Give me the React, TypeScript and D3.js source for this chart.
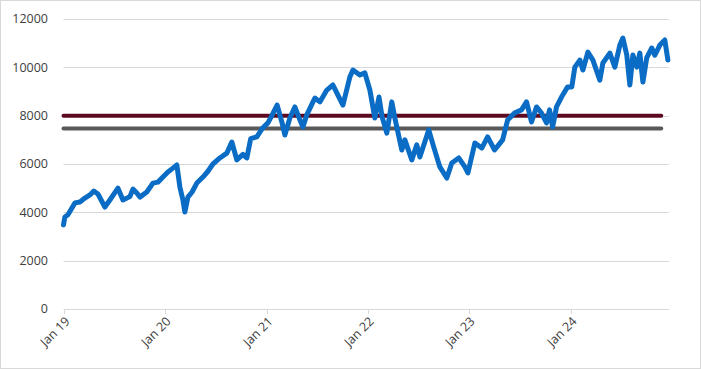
import React, { useEffect } from 'react';
import * as d3 from 'd3';

// index level, roughly twice a month
const dates = [
  '2019-01-01', '2019-01-06', '2019-01-17', '2019-02-11', '2019-03-01', '2019-03-19', '2019-04-06', '2019-04-20',
  '2019-05-05', '2019-05-30', '2019-06-17', '2019-07-16', '2019-08-03', '2019-08-28', '2019-09-08', '2019-09-22',
  '2019-10-03', '2019-10-28', '2019-11-19', '2019-12-07', '2019-12-25', '2020-01-12', '2020-01-30', '2020-02-13',
  '2020-02-24', '2020-03-06', '2020-03-13', '2020-03-24', '2020-04-08', '2020-04-25', '2020-05-17', '2020-06-04',
  '2020-06-22', '2020-07-17', '2020-08-11', '2020-08-29', '2020-09-16', '2020-10-08', '2020-10-22', '2020-11-05',
  '2020-11-27', '2020-12-18', '2021-01-06', '2021-01-20', '2021-02-08', '2021-02-26', '2021-03-08', '2021-03-26',
  '2021-04-13', '2021-04-24', '2021-05-12', '2021-05-26', '2021-06-24', '2021-07-12', '2021-08-06', '2021-08-28',
  '2021-09-11', '2021-10-03', '2021-10-28', '2021-11-08', '2021-12-03', '2021-12-21', '2022-01-08', '2022-01-26',
  '2022-02-10', '2022-02-21', '2022-03-10', '2022-03-28', '2022-04-08', '2022-05-03', '2022-05-14', '2022-06-08',
  '2022-06-26', '2022-07-07', '2022-08-08', '2022-08-26', '2022-09-17', '2022-10-12', '2022-10-30', '2022-11-24',
  '2022-12-16', '2022-12-27', '2023-01-21', '2023-02-15', '2023-03-08', '2023-04-02', '2023-05-01', '2023-05-19',
  '2023-06-13', '2023-07-08', '2023-07-26', '2023-08-13', '2023-08-31', '2023-09-18', '2023-10-06', '2023-10-17',
  '2023-10-28', '2023-11-11', '2023-11-29', '2023-12-21', '2024-01-05', '2024-01-16', '2024-02-03', '2024-02-14',
  '2024-03-03', '2024-03-21', '2024-04-15', '2024-04-26', '2024-05-21', '2024-06-08', '2024-06-26', '2024-07-07',
  '2024-07-21', '2024-08-01', '2024-08-12', '2024-08-26', '2024-09-06', '2024-09-17', '2024-10-01', '2024-10-19',
  '2024-10-30', '2024-11-17', '2024-12-05', '2024-12-16',
];
const values = [
  3480, 3810, 3900, 4390, 4430, 4590, 4720, 4880,
  4760, 4220, 4510, 5000, 4510, 4650, 4960, 4800,
  4630, 4840, 5210, 5250, 5460, 5670, 5830, 5960,
  5050, 4510, 4010, 4630, 4840, 5210, 5460, 5700,
  6000, 6250, 6450, 6910, 6170, 6400, 6250, 7050,
  7120, 7490, 7700, 8000, 8440, 7700, 7200, 7900,
  8360, 8030, 7530, 8030, 8730, 8570, 9060, 9270,
  8940, 8440, 9600, 9890, 9680, 9770, 9060, 7900,
  8770, 7950, 7280, 8570, 7900, 6580, 7000, 6170,
  6790, 6290, 7410, 6700, 5880, 5420, 6040, 6250,
  5880, 5630, 6870, 6660, 7120, 6580, 7000, 7820,
  8110, 8240, 8570, 7740, 8360, 8110, 7700, 8240,
  7530, 8360, 8770, 9190, 9190, 10010, 10300, 9890,
  10630, 10300, 9470, 10180, 10590, 10010, 10920, 11210,
  10510, 9270, 10510, 10010, 10590, 9390, 10400, 10800,
  10500, 10920, 11130, 10300,
];
const refDates = ['2019-01-01', '2024-11-22'];
const upperLevel = [8000, 8000];
const lowerLevel = [7470, 7470];
const yTicks = [0, 2000, 4000, 6000, 8000, 10000, 12000];
const xTicks = ['2019-01-01', '2020-01-01', '2021-01-01', '2022-01-01', '2023-01-01', '2024-01-01'];

const parse = d3.timeParse('%Y-%m-%d');
const W = 701;
const H = 369;

export default function App() {
  useEffect(() => {
    document.body.style.margin = '0';
  }, []);

  const x = d3.scaleTime()
    .domain([parse('2019-01-01'), parse('2024-12-20')])
    .range([63.5, 669]);
  const y = d3.scaleLinear().domain([0, 12000]).range([309, 19]);

  const line = d3.line<[Date, number]>()
    .x(d => x(d[0]))
    .y(d => y(d[1]));

  const main = dates.map((d, i) => [parse(d), values[i]] as [Date, number]);
  const upper = refDates.map((d, i) => [parse(d), upperLevel[i]] as [Date, number]);
  const lower = refDates.map((d, i) => [parse(d), lowerLevel[i]] as [Date, number]);
  const fmt = d3.timeFormat('%b %y');
  const font = '"Open Sans", sans-serif';

  return (
    <svg width={W} height={H} style={{ display: 'block', background: '#fff' }}>
      <rect x={0.5} y={0.5} width={W - 1} height={H - 1} fill="#fff" stroke="#d9d9d9" />
      {yTicks.map(t => (
        <g key={t}>
          <line x1={63.5} x2={669} y1={Math.round(y(t)) + 0.5} y2={Math.round(y(t)) + 0.5}
            stroke="#d9d9d9" strokeWidth={1} />
          <text x={48} y={y(t)} dy="0.35em" textAnchor="end" fontFamily={font}
            fontSize={12.5} fill="#404040">{t}</text>
        </g>
      ))}
      {xTicks.map(t => {
        const xx = Math.round(x(parse(t))) + 0.5;
        return (
          <g key={t}>
            <line x1={xx} x2={xx} y1={309} y2={314} stroke="#d9d9d9" />
            <text transform={`translate(${xx + 3},${319}) rotate(-45)`} textAnchor="end"
              dy="0.35em" fontFamily={font} fontSize={12.5} fill="#404040">
              {fmt(parse(t))}
            </text>
          </g>
        );
      })}
      <path d={line(lower) || ''} fill="none" stroke="#595959" strokeWidth={4} strokeLinecap="round" />
      <path d={line(upper) || ''} fill="none" stroke="#5c0a22" strokeWidth={4} strokeLinecap="round" />
      <path d={line(main) || ''} fill="none" stroke="#0a6cc4" strokeWidth={5}
        strokeLinejoin="round" strokeLinecap="round" />
    </svg>
  );
}
